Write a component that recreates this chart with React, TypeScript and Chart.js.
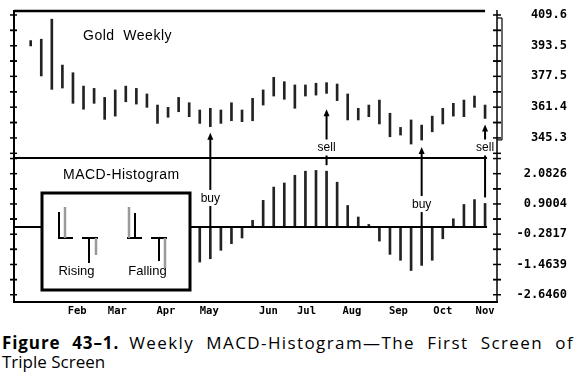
import React, { useEffect, useRef } from 'react';
import { Chart, registerables } from 'chart.js';

Chart.register(...registerables);

// ---- data ----
const WEEK_HIGH = [
  396.2, 396.9, 407.4, 383.4, 379.4, 372.4, 371.2, 366.5, 370.4, 372.4,
  371.2, 368.3, 362.5, 361.3, 366.5, 363.7, 359.9, 360.8, 359.9, 363.7,
  359.9, 366.0, 370.4, 377.0, 374.7, 373.0, 373.0, 373.9, 374.2, 373.5,
  368.3, 360.8, 362.5, 365.1, 358.2, 350.8, 354.7, 352.0, 356.7, 360.8,
  363.4, 365.1, 367.2, 362.5,
];
const WEEK_LOW = [
  393.4, 377.7, 370.7, 371.4, 363.4, 360.3, 363.4, 355.0, 356.7, 364.2,
  363.0, 361.3, 352.9, 356.1, 359.0, 356.4, 352.9, 351.2, 352.9, 354.3,
  353.8, 354.3, 362.5, 367.2, 365.5, 360.8, 367.2, 367.7, 368.6, 364.8,
  354.7, 354.7, 356.4, 352.6, 345.9, 346.8, 342.1, 344.2, 348.5, 352.6,
  356.7, 356.4, 361.3, 355.5,
];
// weeks hidden behind the inset box are null
const HISTOGRAM: (number | null)[] = [
  null, null, null, null, null, null, null, null, null, null,
  null, null, null, null, null, null, -1.37, -1.24, -0.91, -0.65,
  -0.43, 0.26, 1.04, 1.56, 1.72, 2.02, 2.18, 2.21, 2.18, 1.75,
  0.84, 0.39, 0.10, -0.55, -1.07, -1.30, -1.70, -1.50, -1.30, -0.46,
  0.32, 0.88, 1.07, 0.92,
];
const MONTH_LABELS = ['Feb', 'Mar', 'Apr', 'May', 'Jun', 'Jul', 'Aug', 'Sep', 'Oct', 'Nov'];
const MONTH_WEEK = [4.4, 8.2, 12.8, 16.9, 22.5, 26.1, 30.4, 34.8, 39.0, 43.0];
const PRICE_TICKS = [409.6, 393.5, 377.5, 361.4, 345.3];
const MACD_TICKS = [2.0826, 0.9004, -0.2817, -1.4639, -2.646];
const SIGNAL_WEEK = [17, 28, 37, 43];
const SIGNAL_TEXT = ['buy', 'sell', 'buy', 'sell'];

// ---- layout (not data) ----
const SIGNAL_LAYOUT = [
  { gap: 6, axis: 'yM', label: 0.98 },
  { gap: 16, axis: 'yP', label: 338.2 },
  { gap: 7, axis: 'yM', label: 0.74 },
  { gap: 6, axis: 'yP', label: 338.2 },
];

const MONO = '"DejaVu Sans Mono"';
const SANS = '"Liberation Sans", Arial, sans-serif';

const decorPlugin = {
  id: 'decor',
  afterDatasetsDraw(chart: any) {
    const { ctx, chartArea: ca, scales } = chart;
    const x = scales.x, yP = scales.yP, yM = scales.yM;
    ctx.save();
    ctx.strokeStyle = '#000';
    ctx.fillStyle = '#000';
    ctx.lineCap = 'butt';
    const line = (x1: number, y1: number, x2: number, y2: number, w: number, c = '#000') => {
      ctx.beginPath();
      ctx.lineWidth = w;
      ctx.strokeStyle = c;
      ctx.moveTo(x1, y1);
      ctx.lineTo(x2, y2);
      ctx.stroke();
    };
    const lastX = x.getPixelForValue(WEEK_HIGH.length - 1);
    const z = yM.getPixelForValue(0);
    const divider = yP.bottom;

    // frame
    line(ca.left, ca.top + 1, lastX, ca.top + 1, 2.5);
    line(ca.left, divider, lastX + 2, divider, 2);
    line(ca.left, z, lastX + 2, z, 2);
    line(ca.left, ca.top, ca.left, ca.bottom, 2);
    line(ca.right, ca.top, ca.right, ca.bottom + 1, 1.5);
    // bracket next to the price axis
    const bt = yP.getPixelForValue(PRICE_TICKS[0]) + 3;
    const bb = yP.getPixelForValue(PRICE_TICKS[4]) + 2;
    line(ca.right, bt, ca.right + 5, bt, 1.2);
    line(ca.right + 5, bt, ca.right + 5, bb, 1.2);
    line(ca.right, bb, ca.right + 5, bb, 1.2);

    // half-step tick marks on both side axes
    const drawTicks = (scale: any, ticks: number[]) => {
      const step = ticks[0] - ticks[1];
      const vals: number[] = [];
      ticks.forEach((t) => { vals.push(t); vals.push(t - step / 2); vals.push(t + step / 2); });
      vals.forEach((v) => {
        if (v <= scale.min || v >= scale.max) return;
        const py = scale.getPixelForValue(v);
        line(ca.left - 4, py, ca.left + 3, py, 1.5);
        line(ca.right - 4, py, ca.right + 4, py, 1.5);
      });
    };
    drawTicks(yP, PRICE_TICKS);
    drawTicks(yM, MACD_TICKS);

    // panel titles
    ctx.fillStyle = '#000';
    ctx.font = `14px ${SANS}`;
    (ctx as any).letterSpacing = '0.5px';
    ctx.textAlign = 'left';
    ctx.textBaseline = 'alphabetic';
    ctx.fillText('Gold  Weekly', ca.left + 69, ca.top + 29.5);
    ctx.fillText('MACD-Histogram', ca.left + 49, divider + 21.3);
    (ctx as any).letterSpacing = '0px';

    // buy / sell signals
    ctx.font = `12px ${SANS}`;
    ctx.textAlign = 'center';
    SIGNAL_WEEK.forEach((w, i) => {
      const lay = SIGNAL_LAYOUT[i];
      const xp = x.getPixelForValue(w);
      const isBuy = SIGNAL_TEXT[i] === 'buy';
      const tipY = yP.getPixelForValue(WEEK_LOW[w]) + lay.gap;
      const baseY = (lay.axis === 'yM' ? yM : yP).getPixelForValue(lay.label);
      ctx.fillStyle = '#000';
      ctx.fillText(SIGNAL_TEXT[i], xp, baseY);
      const labelTop = baseY - 12;
      const labelBottom = baseY + 4;
      line(xp, tipY + 5, xp, labelTop, 2);
      ctx.beginPath();
      ctx.moveTo(xp, tipY);
      ctx.lineTo(xp - 3, tipY + 7);
      ctx.lineTo(xp + 3, tipY + 7);
      ctx.closePath();
      ctx.fill();
      const h = HISTOGRAM[w] ?? 0;
      const end = isBuy ? z : yM.getPixelForValue(Math.max(0, h)) - 6;
      line(xp, labelBottom, xp, end, 2);
    });

    // inset legend box
    const bx = ca.left + 28, by = ca.top + 183;
    const bw = 148, bh = 97;
    ctx.fillStyle = '#fff';
    ctx.fillRect(bx, by, bw, bh);
    ctx.lineWidth = 3;
    ctx.strokeStyle = '#000';
    ctx.strokeRect(bx, by, bw, bh);
    const gray = '#9a9a9a';
    // Rising
    line(bx + 16, by + 45, bx + 31, by + 45, 2);
    line(bx + 17, by + 45, bx + 17, by + 19, 2);
    line(bx + 23, by + 45, bx + 23, by + 14, 2.5, gray);
    line(bx + 40, by + 45, bx + 56, by + 45, 2);
    line(bx + 47, by + 45, bx + 47, by + 70, 2);
    line(bx + 54, by + 45, bx + 54, by + 62, 2.5, gray);
    // Falling
    line(bx + 85, by + 45, bx + 100, by + 45, 2);
    line(bx + 87, by + 45, bx + 87, by + 14, 2.5, gray);
    line(bx + 93, by + 45, bx + 93, by + 20, 2);
    line(bx + 109, by + 45, bx + 125, by + 45, 2);
    line(bx + 117, by + 45, bx + 117, by + 68, 2);
    line(bx + 123, by + 45, bx + 123, by + 75, 2.5, gray);
    ctx.fillStyle = '#000';
    ctx.font = `13px ${SANS}`;
    ctx.textAlign = 'center';
    ctx.fillText('Rising', bx + 34.5, by + 82);
    ctx.fillText('Falling', bx + 105.5, by + 82);
    ctx.restore();
  },
};

const fitY = (s: any) => {
  s.width = 70;
  s.paddingTop = 0;
  s.paddingBottom = 0;
};

export default function App() {
  const ref = useRef<HTMLCanvasElement | null>(null);
  useEffect(() => {
    if (!ref.current) return;
    const priceData = WEEK_HIGH.map((h, i) => ({ x: i, y: [WEEK_LOW[i], h] }));
    const histData = HISTOGRAM.map((v, i) => ({ x: i, y: v })).filter((d) => d.y !== null);
    const chart = new Chart(ref.current, {
      type: 'bar',
      data: {
        datasets: [
          {
            label: 'Gold Weekly',
            data: priceData as any,
            xAxisID: 'x',
            yAxisID: 'yP',
            backgroundColor: '#222',
            barThickness: 2,
            grouped: false,
          },
          {
            label: 'MACD-Histogram',
            data: histData as any,
            xAxisID: 'x',
            yAxisID: 'yM',
            backgroundColor: '#222',
            barThickness: 2,
            grouped: false,
          },
        ],
      },
      options: {
        responsive: false,
        animation: false,
        devicePixelRatio: 1,
        layout: { padding: { left: 14, top: 10, right: 13, bottom: 0 } },
        plugins: { legend: { display: false }, tooltip: { enabled: false } },
        scales: {
          x: {
            type: 'linear',
            offset: false,
            min: -1.58,
            max: 44.13,
            position: 'bottom',
            grid: { display: false, drawTicks: false, offset: false },
            border: { display: true, color: '#000', width: 2 },
            ticks: {
              autoSkip: false,
              maxRotation: 0,
              padding: 3,
              color: '#000',
              font: { family: MONO, size: 10.5, weight: 'bold' },
              callback: (_v: any, i: number) => MONTH_LABELS[i],
            },
            afterBuildTicks: (s: any) => { s.ticks = MONTH_WEEK.map((v) => ({ value: v })); },
            afterFit: (s: any) => { s.height = 20; s.paddingLeft = 0; s.paddingRight = 0; },
          },
          yP: {
            type: 'linear',
            position: 'right',
            stack: 'panels',
            stackWeight: 148,
            min: 334.8,
            max: 412.2,
            grid: { display: false, drawTicks: false },
            border: { display: false },
            ticks: {
              crossAlign: 'far',
              padding: 30,
              color: '#000',
              font: { family: MONO, size: 12, weight: 'bold' },
              callback: (v: any) => Number(v).toFixed(1),
            },
            afterBuildTicks: (s: any) => { s.ticks = PRICE_TICKS.map((v) => ({ value: v })); },
            afterFit: fitY,
          },
          yM: {
            type: 'linear',
            position: 'right',
            stack: 'panels',
            stackWeight: 144,
            min: -2.93,
            max: 2.695,
            grid: { display: false, drawTicks: false },
            border: { display: false },
            ticks: {
              crossAlign: 'far',
              padding: 15.6,
              color: '#000',
              font: { family: MONO, size: 12, weight: 'bold' },
              callback: (v: any) => Number(v).toFixed(4),
            },
            afterBuildTicks: (s: any) => { s.ticks = MACD_TICKS.map((v) => ({ value: v })); },
            afterFit: fitY,
          },
        },
      } as any,
      plugins: [decorPlugin],
    });
    return () => chart.destroy();
  }, []);

  return (
    <div style={{ position: 'absolute', left: 0, top: 0, width: 580, height: 378, background: '#fff', overflow: 'hidden' }}>
      <canvas ref={ref} width={580} height={322} style={{ position: 'absolute', left: 0, top: 0 }} />
      <div
        style={{
          position: 'absolute',
          left: 2,
          top: 333,
          width: 572,
          fontFamily: '"Open Sans", sans-serif',
          fontSize: 17,
          lineHeight: '19px',
          color: '#000',
        }}
      >
        <div style={{ textAlign: 'justify', textAlignLast: 'justify' as any, letterSpacing: '1.4px' }}>
          <b style={{ letterSpacing: '0.9px' }}>Figure 43–1.</b>{'\u2002'}Weekly MACD-Histogram—The First Screen of
        </div>
        <div>Triple Screen</div>
      </div>
    </div>
  );
}
